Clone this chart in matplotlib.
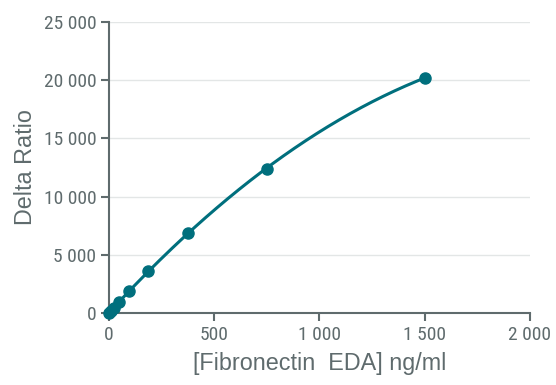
import matplotlib
matplotlib.use('Agg')
import matplotlib.pyplot as plt
from matplotlib.ticker import FuncFormatter
import numpy as np

# concentration (ng/ml) and delta ratio
conc = [0, 11.7, 23.4, 46.9, 93.75, 187.5, 375, 750, 1500]
delta = [0, 200, 450, 950, 1900, 3650, 6850, 12400, 20200]

xticks = [0, 500, 1000, 1500, 2000]
yticks = [0, 5000, 10000, 15000, 20000, 25000]

teal = '#006f7d'
grey = '#5f6b6d'

plt.rcParams['font.family'] = ['Roboto Condensed', 'DejaVu Sans']

fig = plt.figure(figsize=(5.56, 3.85), dpi=100)
ax = fig.add_axes([0.196, 0.187, 0.757, 0.756])

# fitted curve through the standards
coef = np.polyfit(conc, delta, 2)
xs = np.linspace(0, max(conc), 200)
ax.plot(xs, np.polyval(coef, xs), color=teal, lw=2.2, zorder=3)
ax.plot(conc, delta, 'o', color=teal, ms=8, zorder=4, clip_on=False)

ax.set_xlim(0, 2000)
ax.set_ylim(0, 25000)
ax.set_xticks(xticks)
ax.set_yticks(yticks)

fmt = FuncFormatter(lambda v, p: f'{int(v):,}'.replace(',', ' '))
ax.xaxis.set_major_formatter(fmt)
ax.yaxis.set_major_formatter(fmt)

ax.yaxis.grid(True, color='#e3e6e6', lw=1)
ax.set_axisbelow(True)

for s in ['top', 'right']:
    ax.spines[s].set_visible(False)
for s in ['left', 'bottom']:
    ax.spines[s].set_color(grey)
    ax.spines[s].set_linewidth(1.5)

ax.tick_params(colors=grey, labelsize=14, width=1.5, length=6, pad=3)

lab = dict(fontsize=16.8, color=grey, family=['Liberation Sans', 'DejaVu Sans'])
ax.set_xlabel('[Fibronectin  EDA] ng/ml', labelpad=6, **lab)
ax.set_ylabel('Delta Ratio', labelpad=5, **lab)

fig.savefig('out.png', dpi=100)
